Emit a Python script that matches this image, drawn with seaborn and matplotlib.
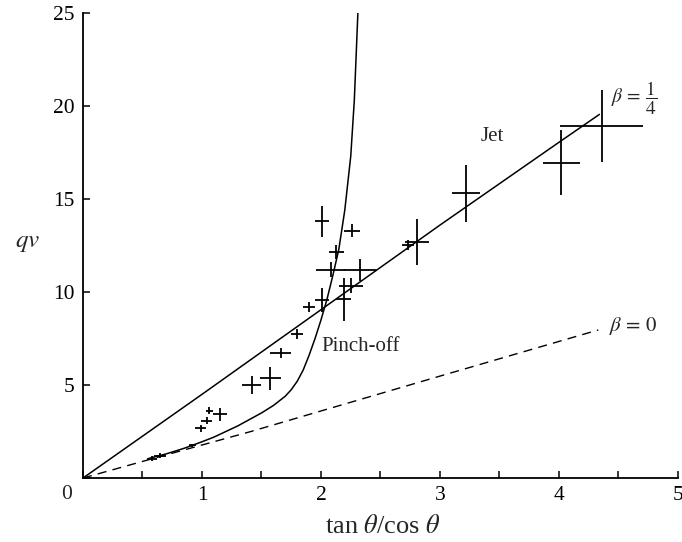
import matplotlib
matplotlib.use("Agg")
import matplotlib.pyplot as plt
import seaborn as sns
import pandas as pd

# theory curves
jet_x = [0.0, 1.0, 2.0, 3.0, 4.0, 4.34]
jet_y = [0.0, 4.5, 9.05, 13.6, 18.05, 19.55]

beta0_x = [0.0, 0.56, 1.41, 3.0, 4.33]
beta0_y = [0.0, 1.0, 2.5, 5.48, 7.96]

pinch_x = [0.55, 0.7, 0.85, 1.0, 1.1, 1.2, 1.3, 1.4, 1.5, 1.6, 1.7, 1.75,
           1.8, 1.85, 1.9, 1.95, 2.0, 2.05, 2.1, 2.15, 2.2, 2.25, 2.28, 2.31]
pinch_y = [1.05, 1.3, 1.6, 1.95, 2.2, 2.5, 2.8, 3.15, 3.5, 3.9, 4.4, 4.75,
           5.2, 5.8, 6.6, 7.5, 8.5, 9.6, 10.9, 12.3, 14.4, 17.3, 20.3, 25.0]

# measurements with error bars
pts_x = [0.58, 0.65, 0.92, 0.99, 1.04, 1.06, 1.15, 1.42, 1.575, 1.66, 1.80,
         1.90, 2.01, 2.01, 2.13, 2.26, 2.08, 2.33, 2.25, 2.19, 2.73, 2.81,
         3.22, 4.02, 4.36]
pts_y = [1.05, 1.2, 1.75, 2.67, 3.08, 3.62, 3.42, 5.0, 5.36, 6.7, 7.74,
         9.2, 9.57, 13.8, 12.17, 13.3, 11.2, 11.2, 10.35, 9.6, 12.53, 12.7,
         15.3, 16.96, 18.93]
pts_xerr = [0.04, 0.05, 0.03, 0.045, 0.045, 0.03, 0.06, 0.08, 0.085, 0.09,
            0.05, 0.047, 0.06, 0.06, 0.063, 0.07, 0.12, 0.14, 0.1, 0.066,
            0.05, 0.1, 0.116, 0.154, 0.35]
pts_yerr = [0.12, 0.12, 0.08, 0.2, 0.2, 0.18, 0.33, 0.5, 0.6, 0.27, 0.25,
            0.27, 0.63, 0.85, 0.38, 0.36, 0.4, 0.6, 0.4, 1.17, 0.27, 1.25,
            1.52, 1.75, 1.93]

x_ticks = [0, 1, 2, 3, 4, 5]
x_tick_labels = ["", "1", "2", "3", "4", "5"]
y_ticks = [0, 5, 10, 15, 20, 25]
y_tick_labels = ["", "5", "10", "15", "20", "25"]

sns.set_theme(style="ticks")
plt.rcParams["font.family"] = ["Liberation Serif", "DejaVu Serif"]
plt.rcParams["mathtext.fontset"] = "stix"

fig = plt.figure(figsize=(6.82, 5.42), dpi=100)
ax = fig.add_axes([0.1217, 0.118, 0.8724, 0.858])

jet = pd.DataFrame({"x": jet_x, "y": jet_y})
beta0 = pd.DataFrame({"x": beta0_x, "y": beta0_y})
pinch = pd.DataFrame({"x": pinch_x, "y": pinch_y})

sns.lineplot(data=jet, x="x", y="y", sort=False, color="black", lw=1.1, ax=ax)
sns.lineplot(data=pinch, x="x", y="y", sort=False, color="black", lw=1.1, ax=ax)
sns.lineplot(data=beta0, x="x", y="y", sort=False, color="black", lw=1.0,
             dashes=False, ax=ax)
ax.lines[-1].set_dashes((6.5, 4.5))

ax.errorbar(pts_x, pts_y, xerr=pts_xerr, yerr=pts_yerr, fmt="none",
            ecolor="black", elinewidth=1.3, capsize=0)

ax.set_xlim(0, 5)
ax.set_ylim(0, 25)
ax.set_xticks(x_ticks)
ax.set_xticklabels(x_tick_labels)
ax.set_xticks([0.5, 1.5, 2.5, 3.5, 4.5], minor=True)
ax.set_yticks(y_ticks)
ax.set_yticklabels(y_tick_labels)
ax.tick_params(axis="both", which="both", direction="in", length=5,
               width=1.1, labelsize=15.5, color="black", labelcolor="black", pad=6)
for s in ["top", "right"]:
    ax.spines[s].set_visible(False)
for s in ["left", "bottom"]:
    ax.spines[s].set_linewidth(1.3)
    ax.spines[s].set_color("black")

ax.text(-0.027, -0.036, "0", transform=ax.transAxes, ha="center", va="center",
        fontsize=15.5)

ax.set_xlabel(r"tan $\theta$/cos $\theta$", fontsize=19, va="center")
ax.xaxis.set_label_coords(0.504, -0.105)
ax.set_ylabel(r"$qv$", fontsize=18, rotation=0, va="center", ha="center")
ax.yaxis.set_label_coords(-0.093, 0.505)

ax.text(3.44, 18.35, "Jet", fontsize=15, ha="center", va="center")
ax.text(2.0, 7.06, "Pinch-off", fontsize=15, ha="left", va="center")
ax.text(4.44, 20.4, r"$\beta\,=\,\dfrac{1}{4}$", fontsize=14, ha="left", va="center")
ax.text(4.42, 8.2, r"$\beta\,=\,0$", fontsize=15, ha="left", va="center")

fig.savefig("out.png", dpi=100)
